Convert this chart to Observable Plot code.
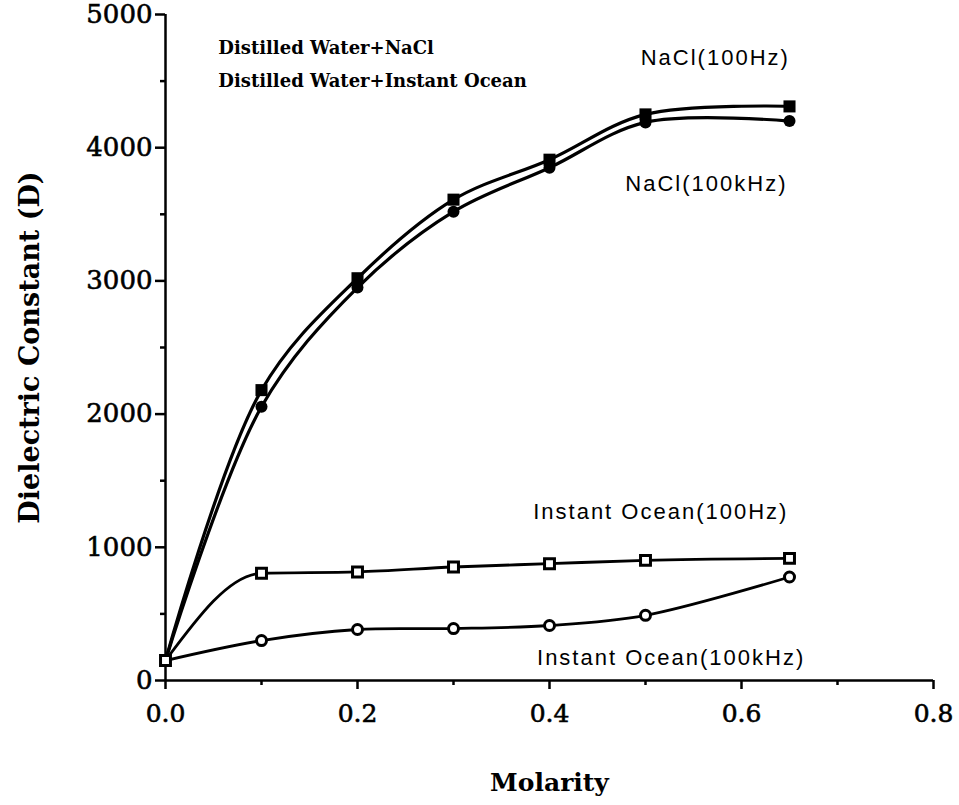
<!DOCTYPE html>
<html>
<head>
<meta charset="utf-8">
<script src="https://cdn.jsdelivr.net/npm/d3@7"></script>
<script src="https://cdn.jsdelivr.net/npm/@observablehq/plot@0.6"></script>
<style>
  html, body { margin: 0; padding: 0; background: #fff; }
  #chart svg { display: block; }
  [font-family^="Liberation Sans"] { letter-spacing: 2px; }
  [aria-label$="-axis tick label"] text { stroke: #000; stroke-width: 0.6px; }
</style>
</head>
<body>
<div id="chart"></div>
<script>
// Data
const molarity    = [0, 0.1, 0.2, 0.3, 0.4, 0.5, 0.65];
const nacl100Hz   = [150, 2180, 3020, 3610, 3910, 4250, 4310];
const nacl100kHz  = [150, 2055, 2950, 3520, 3850, 4190, 4200];
const ocean100Hz  = [150, 805, 815, 852, 877, 902, 917];
const ocean100kHz = [150, 300, 383, 390, 413, 489, 777];

const xTicks = [0, 0.2, 0.4, 0.6, 0.8];
const xMinorTicks = [0.1, 0.3, 0.5, 0.7];
const yTicks = [0, 1000, 2000, 3000, 4000, 5000];
const yMinorTicks = [500, 1500, 2500, 3500, 4500];

const legendLines = ["Distilled Water+NaCl", "Distilled Water+Instant Ocean"];
const legendX = [0.055, 0.055];
const legendY = [4745, 4500];

const seriesLabels = ["NaCl(100Hz)", "NaCl(100kHz)", "Instant Ocean(100Hz)", "Instant Ocean(100kHz)"];
const labelX = [0.495, 0.479, 0.383, 0.387];
const labelY = [4677, 3731, 1269, 173];

const toRows = (vals) => molarity.map((m, i) => ({x: m, y: vals[i]}));
const sNaclHz = toRows(nacl100Hz);
const sNaclKHz = toRows(nacl100kHz);
const sOceanHz = toRows(ocean100Hz);
const sOceanKHz = toRows(ocean100kHz);
const legendRows = legendLines.map((t, i) => ({t, x: legendX[i], y: legendY[i]}));
const labelRows = seriesLabels.map((t, i) => ({t, x: labelX[i], y: labelY[i]}));

const serif = "DejaVu Serif, serif";
const sans = "Liberation Sans, Arial, sans-serif";

const chart = Plot.plot({
  width: 959,
  height: 805,
  marginLeft: 165,
  marginRight: 26,
  marginTop: 14,
  marginBottom: 125,
  x: {domain: [0, 0.8]},
  y: {domain: [0, 5000]},
  style: {background: "#fff", color: "#000"},
  marks: [
    // axes
    Plot.axisY(yTicks, {tickSize: 10, tickPadding: 3, strokeWidth: 2.5, fontSize: 26, fontFamily: serif, tickFormat: d => String(d), label: null}),
    Plot.axisY(yMinorTicks, {tickSize: 5, strokeWidth: 2.5, text: null, label: null}),
    Plot.axisX(xTicks, {tickSize: 9, tickPadding: 15, strokeWidth: 2.5, fontSize: 25, fontFamily: serif, tickFormat: d => d.toFixed(1), label: null}),
    Plot.axisX(xMinorTicks, {tickSize: 5, strokeWidth: 2.5, text: null, label: null}),
    Plot.ruleX([0], {strokeWidth: 2.5}),
    Plot.ruleY([0], {strokeWidth: 2.5}),
    // axis titles
    Plot.text(["Molarity"], {frameAnchor: "bottom", dy: 110, fontSize: 25, fontWeight: "bold", fontFamily: serif}),
    Plot.text(["Dielectric Constant (D)"], {frameAnchor: "left", textAnchor: "middle", rotate: -90, dx: -135, fontSize: 27, fontWeight: "bold", fontFamily: serif}),
    // lines
    Plot.line(sNaclHz, {x: "x", y: "y", curve: "catmull-rom", strokeWidth: 3.2}),
    Plot.line(sNaclKHz, {x: "x", y: "y", curve: "catmull-rom", strokeWidth: 3.2}),
    Plot.line(sOceanHz, {x: "x", y: "y", curve: "monotone-x", strokeWidth: 2.8}),
    Plot.line(sOceanKHz, {x: "x", y: "y", curve: "catmull-rom", strokeWidth: 2.8}),
    // markers
    Plot.dot(sNaclKHz.slice(1), {x: "x", y: "y", symbol: "circle", r: 6, fill: "#000", stroke: "none"}),
    Plot.dot(sNaclHz.slice(1), {x: "x", y: "y", symbol: "square", r: 6.8, fill: "#000", stroke: "none"}),
    Plot.dot(sOceanKHz.slice(1), {x: "x", y: "y", symbol: "circle", r: 5, fill: "#fff", stroke: "#000", strokeWidth: 3}),
    Plot.dot(sOceanHz, {x: "x", y: "y", symbol: "square", r: 5.6, fill: "#fff", stroke: "#000", strokeWidth: 3}),
    // legend and annotations
    Plot.text(legendRows, {x: "x", y: "y", text: "t", textAnchor: "start", fontSize: 18, fontWeight: "bold", fontFamily: serif}),
    Plot.text(labelRows, {x: "x", y: "y", text: "t", textAnchor: "start", fontSize: 22, fontFamily: sans})
  ]
});
// thicken axis tick strokes
d3.select(chart).selectAll("g").filter(function() {
  const a = this.getAttribute("aria-label") || "";
  return /axis tick$/.test(a);
}).each(function() {
  this.setAttribute("stroke-width", "2.5");
  this.setAttribute("stroke-opacity", "1");
  this.setAttribute("stroke", "#000");
  d3.select(this).selectAll("path,line").attr("stroke-width", 2.5).attr("stroke-opacity", 1).attr("stroke", "#000");
});
document.getElementById("chart").appendChild(chart);
</script>
</body>
</html>
